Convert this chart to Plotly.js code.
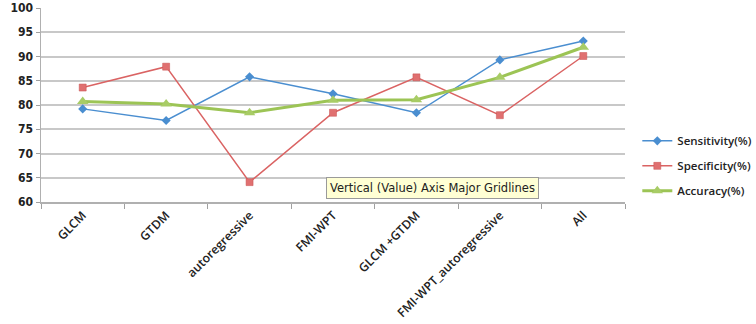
<!DOCTYPE html>
<html>
<head>
<meta charset="utf-8">
<script src="https://cdn.plot.ly/plotly-3.0.1.min.js"></script>
<style>html,body{margin:0;padding:0;background:#fff;}#chart{width:756px;height:324px;}</style>
</head>
<body>
<div id="chart"></div>
<script>
const categories = ["GLCM", "GTDM", "autoregressive", "FMI-WPT", "GLCM +GTDM", "FMI-WPT_autoregressive", "All"];
const sensitivity = [79.2, 76.8, 85.8, 82.3, 78.4, 89.3, 93.2];
const specificity = [83.6, 87.9, 64.1, 78.4, 85.7, 77.9, 90.1];
const accuracy = [80.7, 80.2, 78.4, 81.0, 81.1, 85.7, 91.9];
const seriesNames = ["Sensitivity(%)", "Specificity(%)", "Accuracy(%)"];
const yTicks = [60, 65, 70, 75, 80, 85, 90, 95, 100];

const traces = [
  {x: categories, y: sensitivity, name: seriesNames[0], legendgroup: "a", type: "scatter", mode: "lines+markers",
   line: {color: "#4a8ed0", width: 1.5}, marker: {symbol: "diamond", size: 7, color: "#4a8ed0"}},
  {x: categories, y: specificity, name: seriesNames[1], legendgroup: "b", type: "scatter", mode: "lines+markers",
   line: {color: "#da6363", width: 1.5}, marker: {symbol: "square", size: 7, color: "#e07070", line: {color: "#c85050", width: 0.5}}},
  {x: categories, y: accuracy, name: seriesNames[2], legendgroup: "c", type: "scatter", mode: "lines+markers",
   line: {color: "#9cc455", width: 3}, marker: {symbol: "triangle-up", size: 10, color: "#a8cc66"}}
];

const layout = {
  width: 756, height: 324,
  margin: {l: 41, r: 131, t: 8, b: 122},
  paper_bgcolor: "#ffffff", plot_bgcolor: "#ffffff",
  font: {family: "Open Sans, DejaVu Sans, sans-serif", color: "#222"},
  xaxis: {
    type: "category", tickangle: -45, tickson: "boundaries", ticks: "outside", ticklen: 5,
    tickcolor: "#a0a0a0", showline: true, linecolor: "#b0b0b0", linewidth: 1.5,
    showgrid: false, tickfont: {size: 12.2, color: "#222", weight: 600}, range: [-0.5, 6.5]
  },
  yaxis: {
    range: [60, 100], tickvals: yTicks, ticks: "outside", ticklen: 4, tickcolor: "#a0a0a0",
    showline: true, linecolor: "#b0b0b0", linewidth: 1.5,
    showgrid: true, gridcolor: "#c8c8c8", gridwidth: 2, zeroline: false,
    tickfont: {size: 12, color: "#222", weight: 700, family: "DejaVu Sans Condensed, DejaVu Sans, sans-serif"}
  },
  legend: {xref: "container", yref: "container", x: 0.843, xanchor: "left", y: 0.61, yanchor: "top",
    font: {size: 11.5, color: "#222", weight: 600},
    traceorder: "grouped", tracegroupgap: 6, itemwidth: 30, borderwidth: 0, bgcolor: "rgba(0,0,0,0)"},
  annotations: [{
    xref: "paper", yref: "paper", x: 0.671, y: 0.072, xanchor: "center", yanchor: "middle", showarrow: false,
    text: "Vertical (Value) Axis Major Gridlines",
    font: {size: 11.5, color: "#222", family: "DejaVu Sans, sans-serif"},
    bgcolor: "#ffffd4", bordercolor: "#9a9a9a", borderwidth: 1, borderpad: 3
  }],
  showlegend: true
};

Plotly.newPlot("chart", traces, layout, {displayModeBar: false, staticPlot: true});
</script>
</body>
</html>
